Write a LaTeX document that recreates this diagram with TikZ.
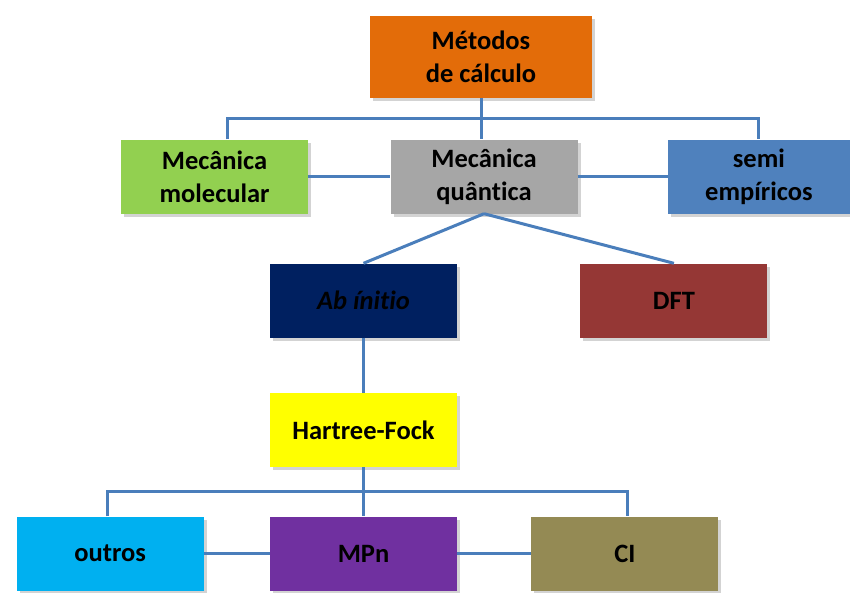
\documentclass[tikz,border=0pt]{standalone}
\usepackage{fontspec}
\setmainfont[Ligatures=CommonOff]{Carlito}
\usetikzlibrary{positioning,shadows}
\definecolor{linkblue}{RGB}{74,126,187}
\definecolor{metorange}{RGB}{227,108,9}
\definecolor{molgreen}{RGB}{146,208,80}
\definecolor{quantgray}{RGB}{166,166,166}
\definecolor{semiblue}{RGB}{79,129,189}
\definecolor{abnavy}{RGB}{0,32,96}
\definecolor{dftred}{RGB}{149,55,53}
\definecolor{hfyellow}{RGB}{255,255,0}
\definecolor{outcyan}{RGB}{0,176,240}
\definecolor{mpnpurple}{RGB}{112,48,160}
\definecolor{ciolive}{RGB}{148,138,84}

\begin{document}
\begin{tikzpicture}[x=1pt,y=-1pt]
	\useasboundingbox (0,0) rectangle (850,592);
	\begin{scope}[every node/.style={rectangle,inner sep=0pt,minimum width=187pt,minimum height=74pt,align=center,font=\bfseries\fontsize{26.5}{33}\selectfont,drop shadow={shadow xshift=3pt,shadow yshift=-3pt,opacity=0.35}}]
		\node[fill=metorange,minimum width=222pt,minimum height=82pt] (metodos) at (481,57) {Métodos\\de cálculo};
		\node[fill=quantgray] (quantica) at (484,176.5) {Mecânica\\quântica};
		\node[fill=molgreen,left =82pt of quantica] (molecular) {Mecânica\\molecular};
		\node[fill=semiblue,minimum width=182pt,right =90pt of quantica] (semi) {semi\\empíricos};
		\node[fill=abnavy] (abinitio) at (363.5,300.5) {\textit{Ab ínitio}};
		\node[fill=dftred,right =123pt of abinitio] (dft) {DFT};
		\node[fill=hfyellow] (hf) at (363.5,430) {Hartree-Fock};
		\node[fill=mpnpurple] (mpn) at (363.5,553.5) {MPn};
		\node[fill=outcyan,left =66pt of mpn] (outros) {outros};
		\node[fill=ciolive,right =74pt of mpn] (ci) {CI};
	\end{scope}

	\begin{scope}[draw=linkblue,line width=3pt]
	\coordinate (topbus) at (481,118);
	\coordinate (lowbus) at (363.5,491);
	\draw (metodos.south) -- (metodos.south|-quantica.north);
	\draw ([xshift=13pt]molecular.north) |- (topbus) -| (semi.north);
	\draw (molecular) -- (quantica);
	\draw (quantica) -- (semi);
	\draw (quantica.south) -- (abinitio.north);
	\draw (quantica.south) -- (dft.north);
	\draw (abinitio) -- (hf);
	\draw ([xshift=-3pt]outros.north) |- (lowbus) -| ([xshift=3pt]ci.north);
	\draw (hf) -- (mpn);
	\draw (outros) -- (mpn);
	\draw (mpn) -- (ci);
	\end{scope}
\end{tikzpicture}
\end{document}
